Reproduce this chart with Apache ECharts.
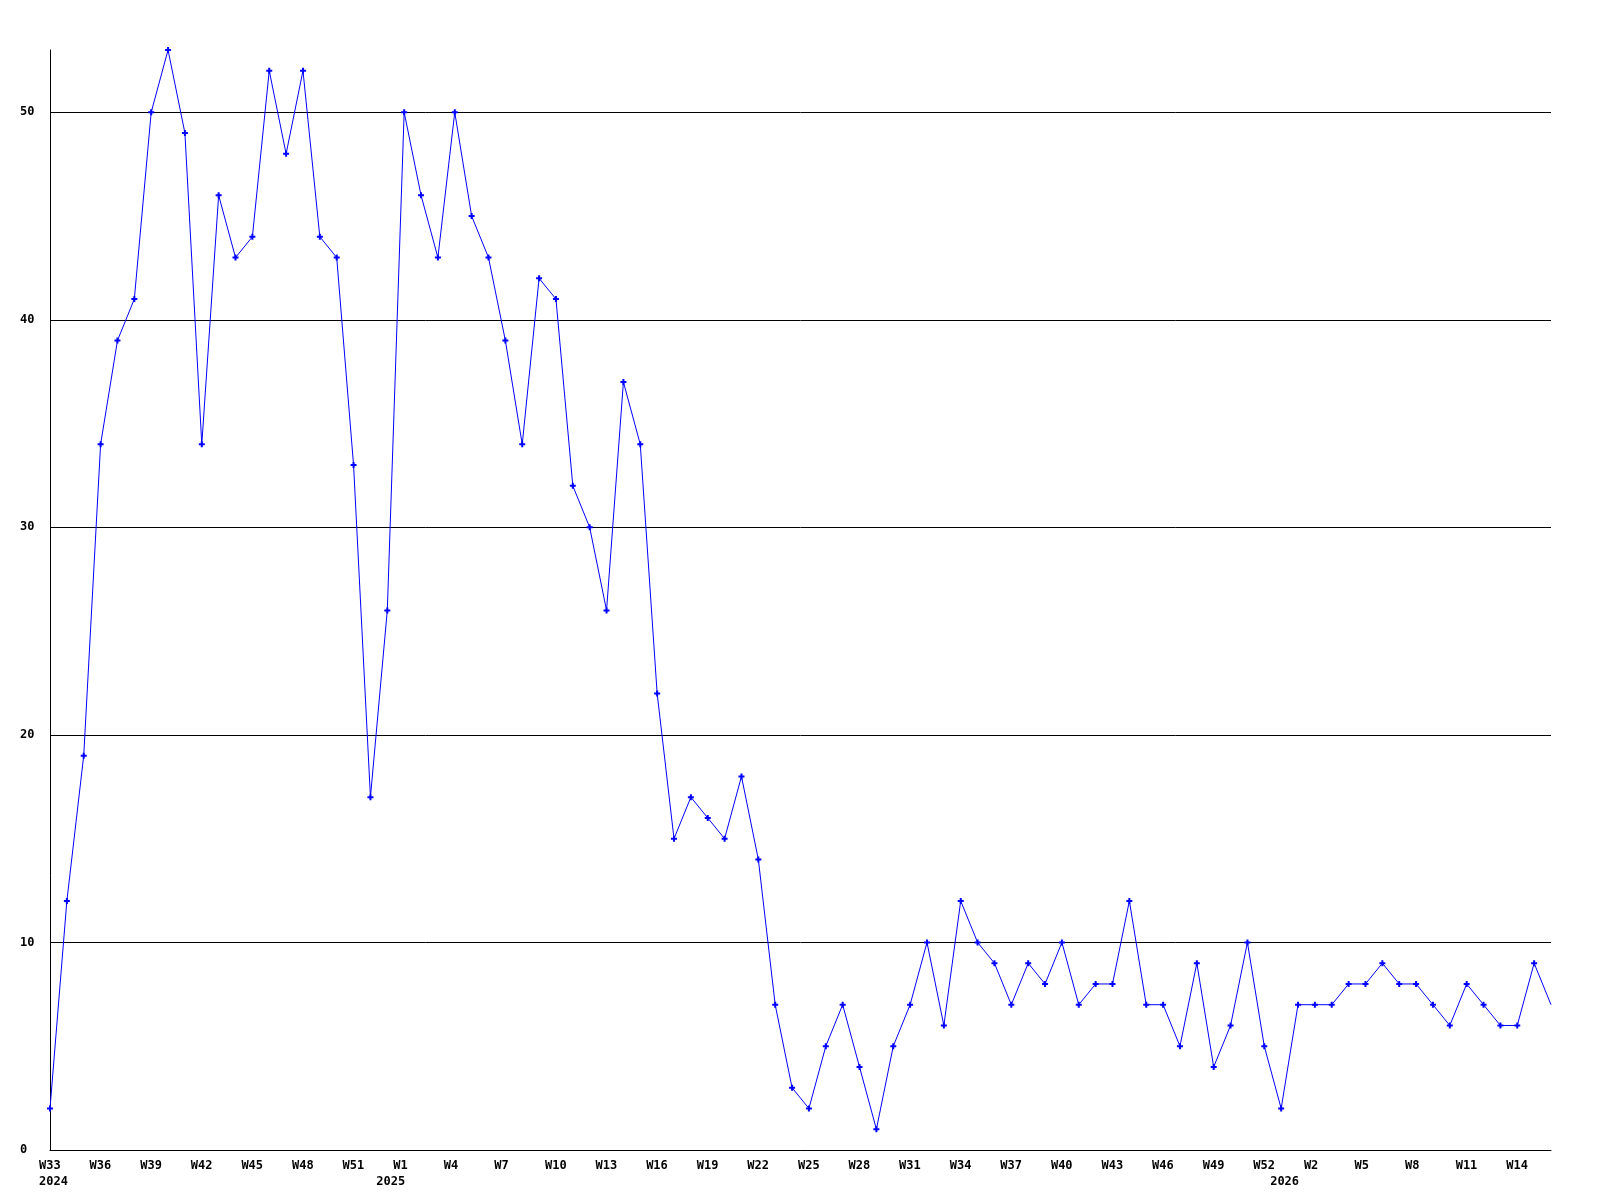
<!DOCTYPE html>
<html><head><meta charset="utf-8">
<script src="https://cdn.jsdelivr.net/npm/echarts@6/dist/echarts.min.js"></script>
<style>html,body{margin:0;padding:0;background:#fff}#c{width:1600px;height:1200px}</style>
</head><body><div id="c"></div>
<script>
const weeks = ['W33','W34','W35','W36','W37','W38','W39','W40','W41','W42','W43','W44','W45','W46','W47','W48','W49','W50','W51','W52','W53',
'W1','W2','W3','W4','W5','W6','W7','W8','W9','W10','W11','W12','W13','W14','W15','W16','W17','W18','W19','W20','W21','W22','W23','W24','W25','W26','W27','W28','W29','W30','W31','W32','W33','W34','W35','W36','W37','W38','W39','W40','W41','W42','W43','W44','W45','W46','W47','W48','W49','W50','W51','W52','W53',
'W1','W2','W3','W4','W5','W6','W7','W8','W9','W10','W11','W12','W13','W14','W15','W16'];
const yearMarks = {0:'2024', 20:'2025', 73:'2026'};
const values = [2,12,19,34,39,41,50,53,49,34,46,43,44,52,48,52,44,43,33,17,26,50,46,43,50,45,43,39,34,42,41,32,30,26,37,34,22,15,17,16,15,18,14,7,3,2,5,7,4,1,5,7,10,6,12,10,9,7,9,8,10,7,8,8,12,7,7,5,9,4,6,10,5,2,7,7,7,8,8,9,8,8,7,6,8,7,6,6,9,7];
const yTicks = [0,10,20,30,40,50];

const yearCats = weeks.map((w,i)=> yearMarks[i] || '');
const FONT = 'DejaVu Sans Mono';
const lblBase = {fontFamily: FONT, fontWeight:'bold', fontSize:12, color:'#000'};
const chart = echarts.init(document.getElementById('c'), null, {renderer:'canvas'});
chart.setOption({
  animation:false,
  backgroundColor:'#fff',
  grid:{left:50, right:49, top:50, bottom:50},
  xAxis:[{
    type:'category', data:weeks, boundaryGap:false,
    axisLine:{show:true, lineStyle:{color:'#000', width:1}},
    axisTick:{show:false},
    splitLine:{show:false},
    axisLabel:Object.assign({}, lblBase, {interval:(i)=> i%3===0, margin:10, align:'center',
      formatter:(v)=>'{a|'+v+'}', rich:{a:Object.assign({}, lblBase, {width:22, align:'left'})}})
  },{
    type:'category', data:yearCats, boundaryGap:false, position:'bottom', offset:16,
    axisLine:{show:false}, axisTick:{show:false}, splitLine:{show:false},
    axisLabel:Object.assign({}, lblBase, {interval:(i,v)=> v!=='', margin:10, align:'center',
      formatter:(v)=>'{a|'+v+'}', rich:{a:Object.assign({}, lblBase, {width:22, align:'left'})}})
  }],
  yAxis:{
    type:'value', min:0, max:53, interval:10,
    axisLine:{show:true, lineStyle:{color:'#000', width:1}},
    axisTick:{show:false},
    splitLine:{show:true, lineStyle:{color:['#000','#000','#000','#000','#000','#000','rgba(0,0,0,0)'], width:1}},
    axisLabel:Object.assign({}, lblBase, {align:'left', margin:30, showMaxLabel:false,
      formatter:(v)=> yTicks.indexOf(v)>=0 ? String(v) : ''})
  },
  series:[{
    type:'line', xAxisIndex:0,
    data: values.map((v,i)=> i===values.length-1 ? {value:v, symbol:'none'} : v),
    symbol:'path://M2,0H4V2H6V4H4V6H2V4H0V2H2Z', symbolSize:6, showAllSymbol:true,
    lineStyle:{color:'#0000ff', width:1},
    itemStyle:{color:'#0000ff'},
    clip:true
  }]
});
</script></body></html>
